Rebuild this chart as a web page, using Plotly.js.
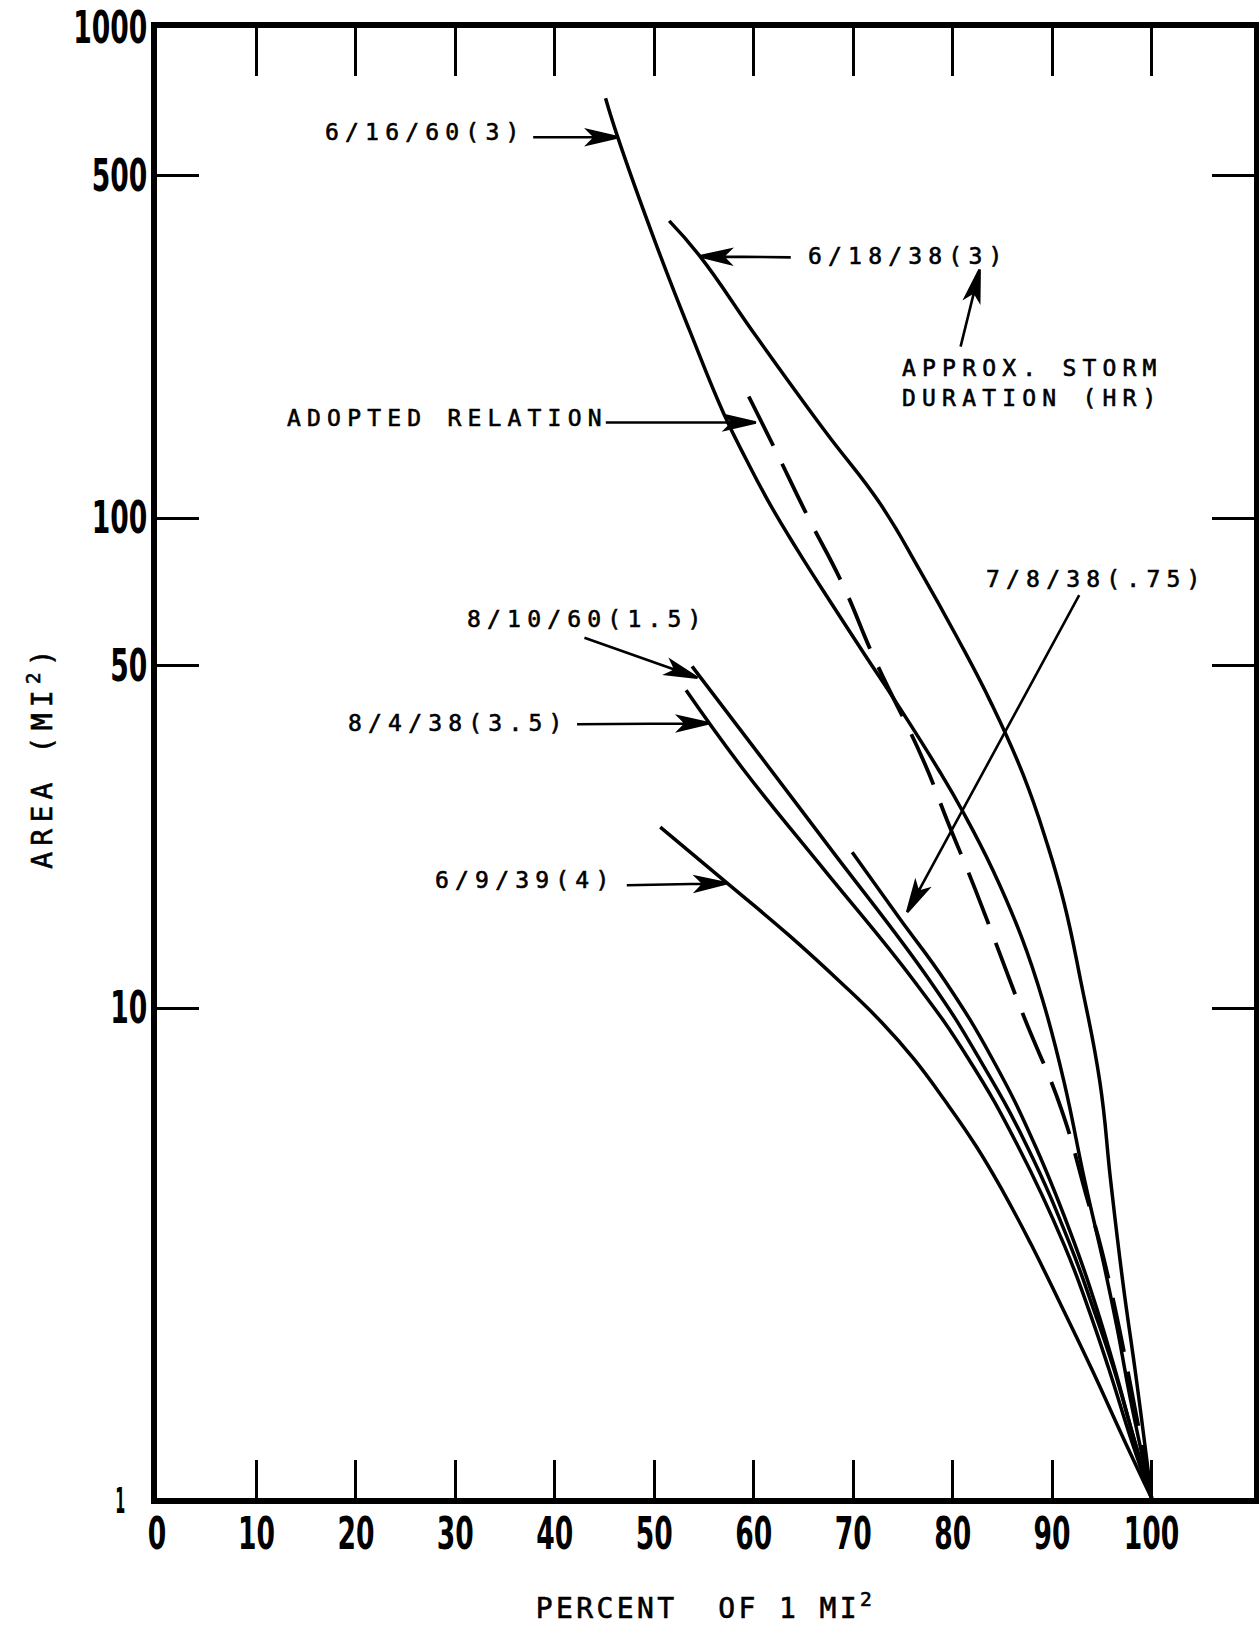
<!DOCTYPE html>
<html><head><meta charset="utf-8">
<script src="https://cdn.plot.ly/plotly-3.0.1.min.js"></script>
<style>
html,body{margin:0;padding:0;background:#fff;}
#chart{width:1259px;height:1625px;}
.annotation-text{letter-spacing:6.2px;stroke:#000;stroke-width:0.6px;}
.xtitle{letter-spacing:3.4px;stroke:#000;stroke-width:0.6px;}
</style></head><body><div id="chart"></div>
<script>
// ---- tick values / labels ----
const pctTicks = [0,10,20,30,40,50,60,70,80,90,100];
const pctTickText = ['0','10','20','30','40','50','60','70','80','90','100'];
const pctTopTicks = [10,20,30,40,50,60,70,80,90,100];
const areaTicks = [1,10,50,100,500,1000];
const areaTickText = ['1','10','50','100','500','1000'];

// ---- series (percent of 1 mi^2 vs area in mi^2) ----
const s_6_16_60_pct  = [45.1,46.3,50.2,53.6,57.0,59.3,61.6,64.4,67.8,71.25,74.4,78.6,81.1,84.0,86.9,89.1,91.2,93.3,95.2,96.6,97.85,100];
const s_6_16_60_area = [719,601,361,240,163,131,107,86,67.0,52.3,41.8,30.6,25.0,19.2,14.0,10.3,7.07,4.42,3.0,2.19,1.6,1];

const s_6_18_38_pct  = [51.5,54.6,60.3,67.1,72.7,76.7,80.4,83.9,87.1,89.45,91.2,92.9,94.8,95.9,97.1,98.5,100];
const s_6_18_38_area = [404,342,234,151,107,78.2,57.3,41.8,29.9,21.8,16.4,11.3,7.07,4.42,2.77,1.73,1];

const adopted_pct  = [59.5,62.0,65.4,68.9,72.2,77.0,79.5,82.3,87.0,90.9,93.4,95.5,100];
const adopted_area = [177,140,101,73.5,51.3,32.2,24.0,17.4,9.79,6.24,4.17,2.90,1];

const s_8_10_60_pct  = [53.8,60.75,67.6,77.8,82.7,87.5,91.8,94.1,96.2,98.3,100];
const s_8_10_60_area = [49.8,32.5,21.3,11.3,7.87,5.21,3.29,2.45,1.835,1.306,1];

const s_8_4_38_pct  = [53.2,59.0,66.5,76.2,81.6,86.6,91.2,93.6,95.7,98.0,100];
const s_8_4_38_area = [44.5,30.6,19.8,11.3,7.87,5.21,3.29,2.45,1.835,1.306,1];

const s_7_8_38_pct  = [69.9,74.6,79.3,84.0,88.35,92.3,94.45,96.3,98.3,100];
const s_7_8_38_area = [20.8,15.3,11.3,7.87,5.21,3.29,2.45,1.835,1.306,1];

const s_6_9_39_pct  = [50.6,57.3,63.5,68.7,72.9,76.1,79.2,82.4,85.15,87.9,91.0,93.97,97.3,100];
const s_6_9_39_area = [23.4,18.0,14.1,11.3,9.33,7.87,6.48,5.21,4.19,3.29,2.45,1.835,1.306,1];

// ---- drawing ----
const lineStyle = {color:'#000', width:3.5, shape:'spline', smoothing:1.3};
function solid(x,y,name,xa){ return {x:x,y:y,name:name,type:'scatter',mode:'lines',line:lineStyle,hoverinfo:'skip',xaxis:xa||'x',yaxis:'y'}; }

const traces = [
  solid(s_6_16_60_pct, s_6_16_60_area, '6/16/60(3)'),
  solid(s_6_18_38_pct, s_6_18_38_area, '6/18/38(3)'),
  {x:adopted_pct, y:adopted_area, name:'ADOPTED RELATION', type:'scatter', mode:'lines',
   line:{color:'#000', width:3.8, shape:'spline', smoothing:1.3, dash:'55px,20px'}, hoverinfo:'skip'},
  solid(s_8_10_60_pct, s_8_10_60_area, '8/10/60(1.5)'),
  solid(s_8_4_38_pct, s_8_4_38_area, '8/4/38(3.5)'),
  solid(s_7_8_38_pct, s_7_8_38_area, '7/8/38(.75)'),
  solid(s_6_9_39_pct, s_6_9_39_area, '6/9/39(4)', 'x2')
];

const lblFont = {family:'DejaVu Sans Mono, Liberation Mono, monospace', size:23, color:'#000'};
function label(text, x, ly, anchor){
  return {text:text, x:x, y:ly, xref:'x', yref:'y', showarrow:false, font:lblFont,
          xanchor:anchor||'center', yanchor:'middle', align:'left'};
}

const annotations = [
  label('6/16/60(3)', 26.9, 2.787),
  label('6/18/38(3)', 75.5, 2.534),
  label('APPROX. STORM<br>DURATION (HR)', 74.66, 2.276, 'left'),
  label('ADOPTED RELATION', 29.2, 2.205),
  label('8/10/60(1.5)', 43.26, 1.794),
  label('8/4/38(3.5)', 30.31, 1.581),
  label('6/9/39(4)', 36.98, 1.261),
  label('7/8/38(.75)', 94.48, 1.876),
  {text:'AREA&nbsp;(MI<sup>2</sup>)', textangle:-90, xref:'paper', yref:'paper',
   x:-0.1057, y:0.505, xanchor:'center', yanchor:'middle', showarrow:false,
   font:{family:'DejaVu Sans Mono, Liberation Mono, monospace', size:28, color:'#000'}}
];

// pointer arrows: tip on a curve (data), tail offset in screen pixels
function arrowShape(xTip, yTip, dx, dy){
  const tx = dx, ty = -dy;
  const len = Math.hypot(tx, ty);
  const ux = -tx/len, uy = -ty/len;
  const nx = -uy, ny = ux;
  const L = 30, W = 7, N = 23;
  const bx = -L*ux, by = -L*uy;
  const p = (a,b) => a.toFixed(2)+','+b.toFixed(2);
  const path = 'M'+p(tx,ty)+'L'+p(-N*ux,-N*uy)+
               'M0,0L'+p(bx+W*nx,by+W*ny)+'L'+p(-N*ux,-N*uy)+'L'+p(bx-W*nx,by-W*ny)+'Z';
  return {type:'path', xref:'x', yref:'y', xsizemode:'pixel', ysizemode:'pixel',
          xanchor:xTip, yanchor:yTip, path:path, layer:'above',
          line:{color:'#000', width:2.6}, fillcolor:'#000'};
}
const shapes = [
  arrowShape(46.37, Math.pow(10,2.777), -85, 0),
  arrowShape(54.57, Math.pow(10,2.534), 91, 1),
  arrowShape(82.71, Math.pow(10,2.507), -19, 77),
  arrowShape(60.21, Math.pow(10,2.195), -150, 0),
  arrowShape(54.34, Math.pow(10,1.674), -113, -40),
  arrowShape(55.51, Math.pow(10,1.581), -132, 1),
  arrowShape(57.29, Math.pow(10,1.2545), -100, 2),
  arrowShape(75.43, Math.pow(10,1.1955), 172, -317)
];

const tickFont = {family:'DejaVu Sans, sans-serif', size:44, color:'#000', weight:'bold'};
const titleFont = {family:'DejaVu Sans Mono, Liberation Mono, monospace', size:28, color:'#000'};

const layout = {
  width:1259, height:1625,
  margin:{l:157, r:5, t:28, b:127, pad:0},
  paper_bgcolor:'#fff', plot_bgcolor:'#fff',
  showlegend:false,
  xaxis:{
    range:[0,110.3], tickvals:pctTicks, ticktext:pctTickText,
    ticks:'inside', ticklen:38, tickwidth:3, tickcolor:'#000',
    showline:true, linewidth:6, linecolor:'#000', mirror:false,
    showgrid:false, zeroline:false, tickfont:tickFont, ticklabelstandoff:-8,
    title:{text:'PERCENT&nbsp;&nbsp;OF&nbsp;1&nbsp;MI<sup>2</sup>', font:titleFont, standoff:43}
  },
  xaxis2:{
    range:[0,110.3], overlaying:'x', side:'top', anchor:'y', tickvals:pctTopTicks,
    ticks:'inside', ticklen:48, tickwidth:3, tickcolor:'#000', showticklabels:false,
    showline:true, linewidth:6, linecolor:'#000', showgrid:false, zeroline:false
  },
  yaxis:{
    type:'log', range:[0,3], tickvals:areaTicks, ticktext:areaTickText,
    ticks:'inside', ticklen:42, tickwidth:3, tickcolor:'#000',
    showline:true, linewidth:6, linecolor:'#000', mirror:'ticks',
    showgrid:false, zeroline:false, tickfont:tickFont, ticklabelstandoff:-5
  },
  annotations:annotations,
  shapes:shapes
};

Plotly.newPlot('chart', traces, layout, {displayModeBar:false, staticPlot:true}).then(function(gd){
  // condensed look of the bold tick numerals
  gd.querySelectorAll('.xtick text, .ytick text').forEach(function(t){
    const n = t.textContent.length;
    t.setAttribute('textLength', (n*18.5).toFixed(1));
    t.setAttribute('lengthAdjust', 'spacingAndGlyphs');
  });
  // the lone "1" at the foot of the area scale is a thin stroke set further left
  gd.querySelectorAll('.ytick text').forEach(function(t){
    if (t.textContent === '1') {
      t.setAttribute('textLength', '10');
      t.setAttribute('dx', '-22');
      t.style.fontSize = '36px';
    }
  });
  // drop empty placeholder text nodes (unused titles)
  gd.querySelectorAll('text').forEach(function(t){
    if (!t.textContent.trim()) t.remove();
  });
});
</script></body></html>
